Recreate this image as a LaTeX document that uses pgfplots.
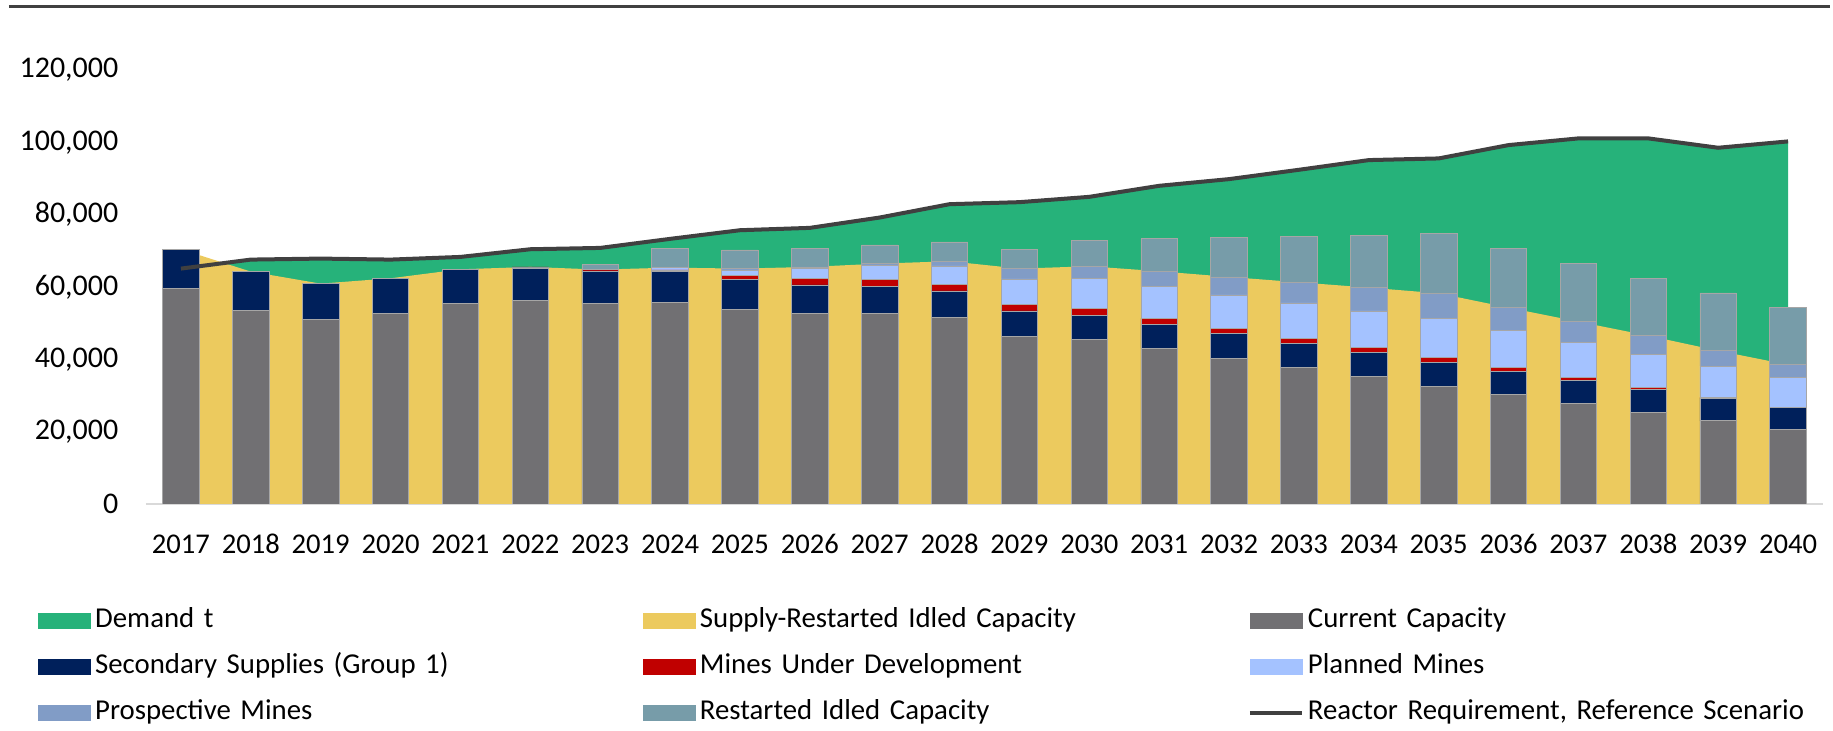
\documentclass[border=0pt]{standalone}
\usepackage{fontspec}
\setmainfont{Carlito}
\usepackage{pgfplots}
\usepackage{pgfplotstable}
\pgfplotsset{compat=1.18}

\definecolor{demandc}{HTML}{26B27A}
\definecolor{supplyc}{HTML}{ECCA5E}
\definecolor{curc}{HTML}{717073}
\definecolor{secc}{HTML}{00205B}
\definecolor{mudc}{HTML}{C00000}
\definecolor{planc}{HTML}{A4C2FF}
\definecolor{prosc}{HTML}{819CC6}
\definecolor{restc}{HTML}{779CA9}
\definecolor{linec}{HTML}{404040}
\definecolor{edgec}{HTML}{A6A6A6}

% tonnes per year; supply = all bar segments except restarted idled capacity
\pgfplotstableread{
idx demand supply cur   sec   mud  plan  pros rest
0   65080  70430  59630 10800 0    0     0    0
1   67570  64250  53540 10710 0    0     0    0
2   67850  60920  51050 9870  0    0     0    0
3   67570  62400  52710 9690  0    0     0    0
4   68310  64890  55480 9410  0    0     0    0
5   70430  65540  56220 9040  280  0     0    0
6   70800  64800  55480 8950  370  0     0    1390
7   73300  65350  55660 8680  370  640   0    5360
8   75690  65080  53820 8210  1110 1480  460  5170
9   76340  65540  52710 7850  1840 2680  460  5170
10  79200  66460  52620 7470  2030 3790  550  5170
11  82890  67110  51690 7200  1760 5170  1290 5350
12  83450  65080  46430 6930  1750 7110  2860 5260
13  84920  65720  45510 6650  1840 8310  3410 7200
14  87970  64340  43020 6550  1750 8770  4250 9050
15  89820  62770  40340 6740  1480 9230  4980 10890
16  92400  61290  37760 6640  1390 9780  5720 12740
17  95080  59820  35260 6650  1290 10160 6460 14490
18  95540  58250  32490 6740  1290 10710 7020 16430
19  99230  54280  30180 6560  1020 10150 6370 16340
20  101080 50400  27790 6460  740  9690  5720 16060
21  101080 46520  25290 6460  370  9240  5160 15880
22  98490  42370  22990 6270  190  8670  4250 15970
23  100250 38490  20590 6180  0    8220  3500 15790
}\uranium

\pgfplotsset{
  base/.style={width=838.5pt, height=235.1pt, scale only axis,
    xmin=-0.5, xmax=23.5, ymin=0, ymax=130000},
  sq/.style={legend image code/.code={\fill[#1] (0pt,-3.75pt) rectangle (26pt,3.75pt);}},
}

\begin{document}
\begin{tikzpicture}
\path[use as bounding box] (-73pt,-113.5pt) rectangle (843.5pt,252pt);
\draw[linec, line width=1.25pt] (-68.5pt,248.75pt) -- (842pt,248.75pt);

\begin{axis}[base,
  axis x line*=bottom, axis y line*=left,
  y axis line style={draw=none},
  x axis line style={draw=black!15, line width=1pt},
  tick style={draw=none},
  xtick={0,...,23},
  xticklabels={2017,2018,2019,2020,2021,2022,2023,2024,2025,2026,2027,2028,
    2029,2030,2031,2032,2033,2034,2035,2036,2037,2038,2039,2040},
  ytick={0,20000,...,120000},
  scaled y ticks=false,
  yticklabel style={font=\fontsize{15}{18}\selectfont, xshift=-10.3pt,
    /pgf/number format/fixed, /pgf/number format/precision=0,
    /pgf/number format/1000 sep={,}},
  xticklabel style={font=\fontsize{14.3}{17}\selectfont, yshift=-11.2pt,
    text height=10pt, text depth=2pt},
  /pgf/number format/assume math mode=true,
]
\addplot[fill=demandc, draw=none] table[x=idx, y=demand] {\uranium} \closedcycle;
\addplot[fill=supplyc, draw=none] table[x=idx, y=supply] {\uranium} \closedcycle;
\end{axis}

\begin{axis}[base, hide axis, ybar stacked, bar width=18.25pt]
\addplot[fill=curc, draw=edgec, line width=0.4pt] table[x=idx, y=cur] {\uranium};
\addplot[fill=secc, draw=edgec, line width=0.4pt] table[x=idx, y=sec] {\uranium};
\addplot[fill=mudc, draw=edgec, line width=0.4pt] table[x=idx, y=mud] {\uranium};
\addplot[fill=planc, draw=edgec, line width=0.4pt] table[x=idx, y=plan] {\uranium};
\addplot[fill=prosc, draw=edgec, line width=0.4pt] table[x=idx, y=pros] {\uranium};
\addplot[fill=restc, draw=edgec, line width=0.4pt] table[x=idx, y=rest] {\uranium};
\end{axis}

\begin{axis}[base, hide axis,
  legend columns=3,
  legend cell align=left,
  legend style={at={(-0.0644,-0.2205)}, anchor=north west, draw=none, fill=none,
    inner sep=0pt, row sep=10.5pt, column sep=0pt,
    font=\fontsize{14.4}{17}\selectfont,
    nodes={text width=272pt, align=left, inner xsep=2pt, inner ysep=0pt,
      text height=9.5pt, text depth=3pt}},
]
\addlegendimage{sq=demandc}\addlegendentry{Demand t}
\addlegendimage{sq=supplyc}\addlegendentry{Supply-Restarted Idled Capacity}
\addlegendimage{sq=curc}\addlegendentry{Current Capacity}
\addlegendimage{sq=secc}\addlegendentry{Secondary Supplies (Group 1)}
\addlegendimage{sq=mudc}\addlegendentry{Mines Under Development}
\addlegendimage{sq=planc}\addlegendentry{Planned Mines}
\addlegendimage{sq=prosc}\addlegendentry{Prospective Mines}
\addlegendimage{sq=restc}\addlegendentry{Restarted Idled Capacity}
\addlegendimage{legend image code/.code={\draw[linec, line width=2pt] (0pt,0pt) -- (26pt,0pt);}}
\addlegendentry{Reactor Requirement, Reference Scenario}
\addplot[linec, line width=2pt, forget plot] table[x=idx, y=demand] {\uranium};
\end{axis}
\end{tikzpicture}
\end{document}
